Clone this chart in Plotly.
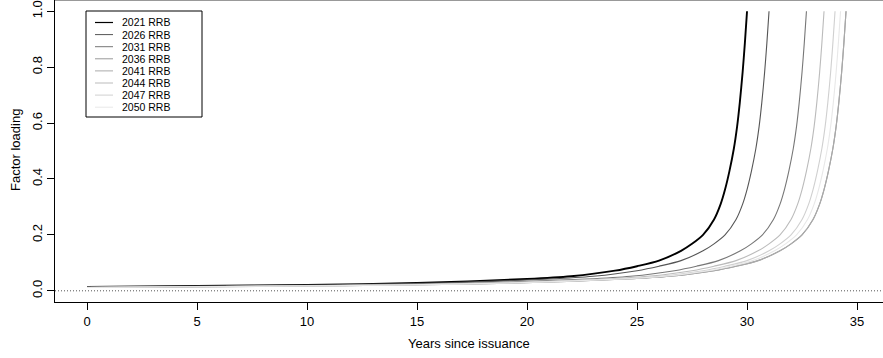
import plotly.graph_objects as go

# ---- data ----
series_names = ["2021 RRB", "2026 RRB", "2031 RRB", "2036 RRB",
                "2041 RRB", "2044 RRB", "2047 RRB", "2050 RRB"]

years_2021 = [0, 5, 10, 15, 20, 22, 24, 25, 26, 27, 27.5, 28, 28.5, 28.8, 29.0, 29.2, 29.4, 29.55, 29.67, 29.8, 29.9, 30.0]
load_2021 = [0.014, 0.017, 0.021, 0.028, 0.042, 0.052, 0.072, 0.088, 0.108, 0.143, 0.168, 0.200, 0.255, 0.310, 0.362, 0.428, 0.508, 0.588, 0.672, 0.782, 0.884, 1.000]

years_2026 = [0, 6, 11, 16, 21, 23, 25, 26, 27, 28, 28.5, 29, 29.5, 29.8, 30.0, 30.2, 30.4, 30.55, 30.67, 30.8, 30.9, 31.0]
load_2026 = [0.0135, 0.017, 0.021, 0.028, 0.042, 0.052, 0.072, 0.088, 0.108, 0.143, 0.168, 0.200, 0.255, 0.310, 0.362, 0.428, 0.508, 0.588, 0.672, 0.782, 0.884, 1.000]

years_2031 = [0, 7.7, 12.7, 17.7, 22.7, 24.7, 26.7, 27.7, 28.7, 29.7, 30.2, 30.7, 31.2, 31.5, 31.7, 31.9, 32.1, 32.25, 32.37, 32.5, 32.6, 32.7]
load_2031 = [0.013, 0.017, 0.021, 0.028, 0.042, 0.052, 0.072, 0.088, 0.108, 0.143, 0.168, 0.200, 0.255, 0.310, 0.362, 0.428, 0.508, 0.588, 0.672, 0.782, 0.884, 1.000]

years_2036 = [0, 9.5, 14.5, 19.5, 24.5, 26.5, 28.5, 29.5, 30.5, 31.5, 32.0, 32.5, 33.0, 33.3, 33.5, 33.7, 33.9, 34.05, 34.17, 34.3, 34.4, 34.5]
load_2036 = [0.012, 0.017, 0.021, 0.028, 0.042, 0.052, 0.072, 0.088, 0.108, 0.143, 0.168, 0.200, 0.255, 0.310, 0.362, 0.428, 0.508, 0.588, 0.672, 0.782, 0.884, 1.000]

years_2041 = [0, 9.5, 14.5, 19.5, 24.5, 26.5, 28.5, 29.5, 30.5, 31.5, 32.0, 32.5, 33.0, 33.3, 33.5, 33.7, 33.9, 34.05, 34.17, 34.3, 34.4, 34.5]
load_2041 = [0.012, 0.017, 0.021, 0.028, 0.042, 0.052, 0.072, 0.088, 0.108, 0.143, 0.168, 0.200, 0.255, 0.310, 0.362, 0.428, 0.508, 0.588, 0.672, 0.782, 0.884, 1.000]

years_2044 = [0, 8.5, 13.5, 18.5, 23.5, 25.5, 27.5, 28.5, 29.5, 30.5, 31.0, 31.5, 32.0, 32.3, 32.5, 32.7, 32.9, 33.05, 33.17, 33.3, 33.4, 33.5]
load_2044 = [0.0125, 0.017, 0.021, 0.028, 0.042, 0.052, 0.072, 0.088, 0.108, 0.143, 0.168, 0.200, 0.255, 0.310, 0.362, 0.428, 0.508, 0.588, 0.672, 0.782, 0.884, 1.000]

years_2047 = [0, 9, 14, 19, 24, 26, 28, 29, 30, 31, 31.5, 32, 32.5, 32.8, 33.0, 33.2, 33.4, 33.55, 33.67, 33.8, 33.9, 34.0]
load_2047 = [0.012, 0.017, 0.021, 0.028, 0.042, 0.052, 0.072, 0.088, 0.108, 0.143, 0.168, 0.200, 0.255, 0.310, 0.362, 0.428, 0.508, 0.588, 0.672, 0.782, 0.884, 1.000]

years_2050 = [0, 9.25, 14.25, 19.25, 24.25, 26.25, 28.25, 29.25, 30.25, 31.25, 31.75, 32.25, 32.75, 33.05, 33.25, 33.45, 33.65, 33.8, 33.92, 34.05, 34.15, 34.25]
load_2050 = [0.012, 0.017, 0.021, 0.028, 0.042, 0.052, 0.072, 0.088, 0.108, 0.143, 0.168, 0.200, 0.255, 0.310, 0.362, 0.428, 0.508, 0.588, 0.672, 0.782, 0.884, 1.000]

x_ticks = [0, 5, 10, 15, 20, 25, 30, 35]
y_ticks = [0.0, 0.2, 0.4, 0.6, 0.8, 1.0]
y_tick_labels = ["0.0", "0.2", "0.4", "0.6", "0.8", "1.0"]

# ---- styles ----
colors = ["#000000", "#555555", "#777777", "#999999",
          "#aaaaaa", "#bbbbbb", "#d0d0d0", "#e8e8e8"]
widths = [1.9, 1.1, 1.1, 1.1, 1.1, 1.1, 1.1, 1.1]
FONT = "Liberation Sans, Arial, sans-serif"

all_years = [years_2021, years_2026, years_2031, years_2036,
             years_2041, years_2044, years_2047, years_2050]
all_loads = [load_2021, load_2026, load_2031, load_2036,
             load_2041, load_2044, load_2047, load_2050]

W, H = 883, 358
ML, MR, MT, MB = 55, 0, 0, 56
pw, ph = W - ML - MR, H - MT - MB

fig = go.Figure()
for name, xs, ys, c, w in zip(series_names, all_years, all_loads, colors, widths):
    fig.add_trace(go.Scatter(x=xs, y=ys, mode="lines", name=name,
                             line=dict(color=c, width=w, shape="spline", smoothing=0.8),
                             showlegend=False, hoverinfo="skip"))

def px_x(p):
    return (p - ML) / pw

def px_y(p):
    return (H - MB - p) / ph

shapes = []
# dotted zero line
shapes.append(dict(type="line", xref="paper", yref="y", x0=0, x1=1, y0=0, y1=0,
                   line=dict(color="#555555", width=1, dash="1px,2px")))
# top grey border
shapes.append(dict(type="line", xref="paper", yref="paper", x0=0, x1=1, y0=1, y1=1,
                   line=dict(color="#999999", width=2)))

# manual legend (R-like)
lx0, lx1, ly0, ly1 = 86, 202, 11, 117
shapes.append(dict(type="rect", xref="paper", yref="paper",
                   x0=px_x(lx0), x1=px_x(lx1), y0=px_y(ly1), y1=px_y(ly0),
                   line=dict(color="#000000", width=1), fillcolor="white"))
annotations = []
row0, step = 22.5, 12.1
for i, (name, c, w) in enumerate(zip(series_names, colors, widths)):
    yy = row0 + i * step
    shapes.append(dict(type="line", xref="paper", yref="paper",
                       x0=px_x(95), x1=px_x(113), y0=px_y(yy), y1=px_y(yy),
                       line=dict(color=c, width=1.2 if i == 0 else 1)))
    annotations.append(dict(xref="paper", yref="paper", x=px_x(121), y=px_y(yy),
                            text=name, showarrow=False, xanchor="left", yanchor="middle",
                            borderpad=0,
                            font=dict(family=FONT, size=10.5, color="#000000")))

# axis titles
annotations.append(dict(xref="paper", yref="paper", x=0.5, y=px_y(343),
                        text="Years since issuance", showarrow=False,
                        xanchor="center", yanchor="middle",
                        font=dict(family=FONT, size=13, color="#000000")))
annotations.append(dict(xref="paper", yref="paper", x=px_x(15), y=px_y(150),
                        text="Factor loading", showarrow=False, textangle=-90,
                        xanchor="center", yanchor="middle",
                        font=dict(family=FONT, size=13, color="#000000")))

fig.update_layout(
    width=W, height=H,
    margin=dict(l=ML, r=MR, t=MT, b=MB, pad=0, autoexpand=False),
    paper_bgcolor="white", plot_bgcolor="white",
    font=dict(family=FONT, size=13, color="#000000"),
    shapes=shapes, annotations=annotations,
    showlegend=False,
    xaxis=dict(range=[-1.4545, 36.18], tickmode="array", tickvals=x_ticks,
               ticks="outside", ticklen=7, tickwidth=1, tickcolor="#000000",
               showline=True, linecolor="#000000", linewidth=1,
               showgrid=False, zeroline=False, automargin=False,
               tickfont=dict(family=FONT, size=13, color="#000000")),
    yaxis=dict(range=[-0.04, 1.04], tickmode="array", tickvals=y_ticks,
               ticktext=y_tick_labels, tickangle=-90,
               ticks="outside", ticklen=7, tickwidth=1, tickcolor="#000000",
               showline=True, linecolor="#000000", linewidth=1,
               showgrid=False, zeroline=False, automargin=False,
               tickfont=dict(family=FONT, size=13, color="#000000")),
)

fig.write_html("out.html", config={"displayModeBar": False},
               post_script="document.body.style.margin='0';document.body.style.overflow='hidden';")
